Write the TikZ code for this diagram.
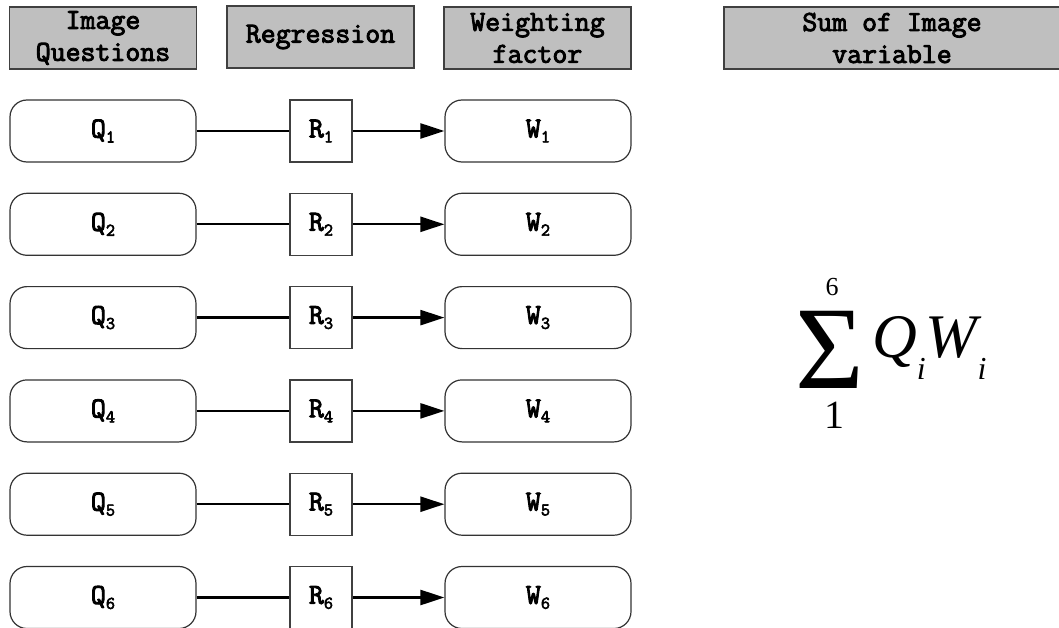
\documentclass[tikz,border=0pt]{standalone}
\usepackage{fontspec}
\newfontfamily\formulafont{Liberation Serif}
\newfontfamily\codefont{Latin Modern Mono}[RawFeature={embolden=3.2}]
\usetikzlibrary{arrows.meta}

% subscript in the monospaced labels
\newcommand{\lowsub}[1]{\raisebox{-5pt}{\fontsize{18}{18}\selectfont #1}}
% subscript in the formula
\newcommand{\fsub}[1]{\raisebox{-22pt}{\fontsize{32}{32}\selectfont #1}}

\begin{document}
\begin{tikzpicture}[x=1pt,y=-1pt,
  every node/.style={font=\codefont\fontsize{29}{32}\selectfont},
  header/.style={draw=black!75, fill=black!25, line width=1.2pt,
    minimum width=187pt, minimum height=62pt, inner sep=0pt, align=center},
  qbox/.style={draw=black!80, line width=1.2pt, rounded corners=17pt,
    minimum width=186pt, minimum height=62pt, inner sep=0pt},
  rbox/.style={draw=black!75, line width=1.2pt,
    minimum width=62pt, minimum height=62pt, inner sep=0pt},
  link/.style={line width=2.4pt},
  flow/.style={line width=2.4pt, -{Triangle[length=24pt,width=15pt]}},
  formula/.style={font=\formulafont, inner sep=0pt}
]
\useasboundingbox (0,0) rectangle (1059,628);

% column headings
\node[header] (hq) at (103,38) {Image\\Questions};
\node[header] (hr) at (320.5,37) {Regression};
\node[header] (hw) at (537.5,38) {Weighting\\factor};
\node[header, minimum width=336pt] (hs) at (892,38) {Sum of Image\\variable};

% one row per question: Q -> R -> W
\foreach \k in {1,...,6}{
  \pgfmathsetmacro{\yy}{131+93.3*(\k-1)}
  \node[qbox] (q\k) at (103,\yy) {Q\lowsub{\k}};
  \node[rbox] (r\k) at (321,\yy) {R\lowsub{\k}};
  \node[qbox] (w\k) at (538,\yy) {W\lowsub{\k}};
  \draw[link] (q\k) -- (r\k);
  \draw[flow] (r\k) -- (w\k);
}

% aggregate formula
\node[formula, anchor=base, text height=79pt, text depth=0pt, font=\formulafont\fontsize{118}{118}\selectfont] (sig) at (830,388) {Σ};
\node[formula, anchor=base, text height=18pt, text depth=0pt, font=\formulafont\fontsize{26}{26}\selectfont] (top) at (832,295) {6};
\node[formula, anchor=base, text height=27pt, text depth=0pt, font=\formulafont\fontsize{40}{40}\selectfont] (bot) at (834,428) {1};
\node[formula, anchor=base west, font=\formulafont\itshape\fontsize{62}{62}\selectfont] (qw) at (872,357) {Q\fsub{i}W\fsub{i}};
\end{tikzpicture}
\end{document}
